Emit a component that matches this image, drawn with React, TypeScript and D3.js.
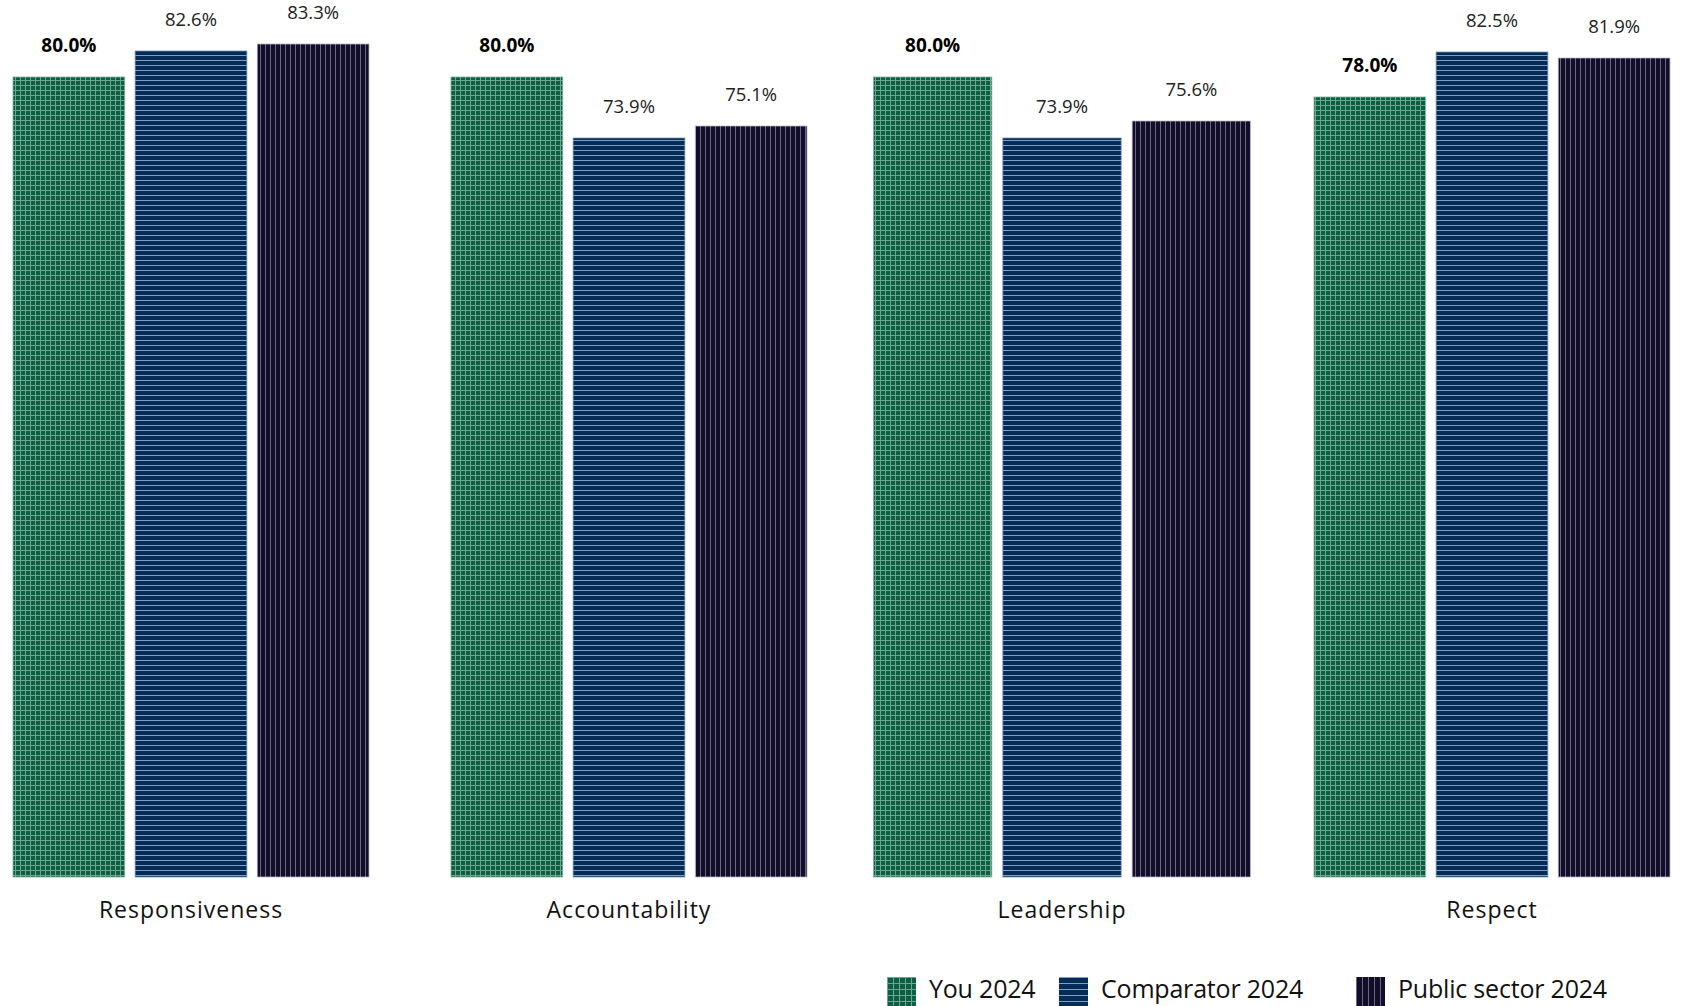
import React from "react";
import * as d3 from "d3";

const categories = ["Responsiveness", "Accountability", "Leadership", "Respect"];
const seriesNames = ["You 2024", "Comparator 2024", "Public sector 2024"];
const youValues = [80.0, 80.0, 80.0, 78.0];
const comparatorValues = [82.6, 73.9, 73.9, 82.5];
const publicSectorValues = [83.3, 75.1, 75.6, 81.9];

const W = 1684;
const H = 1006;
const FONT = "'Open Sans', 'Noto Sans', sans-serif";

const seriesValues = [youValues, comparatorValues, publicSectorValues];
const patternIds = ["pat-green", "pat-blue", "pat-dark"];
const strokeCols = ["#7fb59d", "#6f93bd", "#b9b3c9"];
const groupCenters = [191, 629, 1062, 1492];
const groupWidths: Record<string, number> = { Leadership: 377 };
const legendX = [887, 1059, 1356];

export default function App() {
  const x = d3.scaleOrdinal<string, number>().domain(categories).range(groupCenters);
  const y = d3.scaleLinear().domain([0, 100]).range([877, -123]);

  return (
    <svg width={W} height={H} style={{ position: "absolute", left: 0, top: 0, background: "#fff" }}>
      <defs>
        <pattern id="pat-green" width={5} height={5} patternUnits="userSpaceOnUse">
          <rect width={5} height={5} fill="#0d5e44" />
          <path d="M0 0.5 H5 M0.5 0 V5" stroke="#6aa88d" strokeWidth={1} />
        </pattern>
        <pattern id="pat-blue" width={5} height={5} patternUnits="userSpaceOnUse">
          <rect width={5} height={5} fill="#062b54" />
          <path d="M0 0.5 H5" stroke="#7c9fc8" strokeWidth={1} />
        </pattern>
        <pattern id="pat-dark" width={5} height={5} patternUnits="userSpaceOnUse">
          <rect width={5} height={5} fill="#120d29" />
          <path d="M0.5 0 V5" stroke="#6c6683" strokeWidth={1} />
        </pattern>
        <pattern id="leg-green" width={6} height={6} patternUnits="userSpaceOnUse">
          <rect width={6} height={6} fill="#0d5e44" />
          <path d="M0 0.5 H6 M0.5 0 V6" stroke="#6aa88d" strokeWidth={1} />
        </pattern>
        <pattern id="leg-blue" width={6} height={6} patternUnits="userSpaceOnUse">
          <rect width={6} height={6} fill="#062b54" />
          <path d="M0 0.5 H6" stroke="#7c9fc8" strokeWidth={1} />
        </pattern>
        <pattern id="leg-dark" width={6} height={6} patternUnits="userSpaceOnUse">
          <rect width={6} height={6} fill="#120d29" />
          <path d="M0.5 0 V6" stroke="#6c6683" strokeWidth={1} />
        </pattern>
      </defs>

      {categories.map((cat, ci) => {
        const gw = groupWidths[cat] ?? 356;
        const inner = d3
          .scaleBand<number>()
          .domain([0, 1, 2])
          .range([-gw / 2, gw / 2])
          .paddingInner(0.085)
          .paddingOuter(0);
        const cx = x(cat)!;
        return (
          <g key={cat}>
            {seriesValues.map((vals, si) => {
              const v = vals[ci];
              const bx = cx + inner(si)!;
              const bw = inner.bandwidth();
              return (
                <g key={si}>
                  <rect
                    x={bx}
                    y={y(v)}
                    width={bw}
                    height={y(0) - y(v)}
                    fill={`url(#${patternIds[si]})`}
                    stroke={strokeCols[si]}
                    strokeWidth={0.8}
                  />
                  <text
                    x={bx + bw / 2}
                    y={y(v) - 25}
                    textAnchor="middle"
                    fontFamily={FONT}
                    fontSize={si === 0 ? 19 : 18.5}
                    fontWeight={si === 0 ? 700 : 400}
                    fill={si === 0 ? "#000" : "#222"}
                  >
                    {v.toFixed(1)}%
                  </text>
                </g>
              );
            })}
            <text
              x={cx}
              y={918}
              textAnchor="middle"
              fontFamily={FONT}
              fontSize={23}
              letterSpacing={1}
              fill="#111"
            >
              {cat}
            </text>
          </g>
        );
      })}

      {seriesNames.map((name, si) => (
        <g key={name} transform={`translate(${legendX[si]},977)`}>
          <rect width={29} height={40} fill={`url(#leg-${["green", "blue", "dark"][si]})`} />
          <text x={42} y={21} fontFamily={FONT} fontSize={25} fill="#111" letterSpacing={-0.2}>
            {name}
          </text>
        </g>
      ))}
    </svg>
  );
}
